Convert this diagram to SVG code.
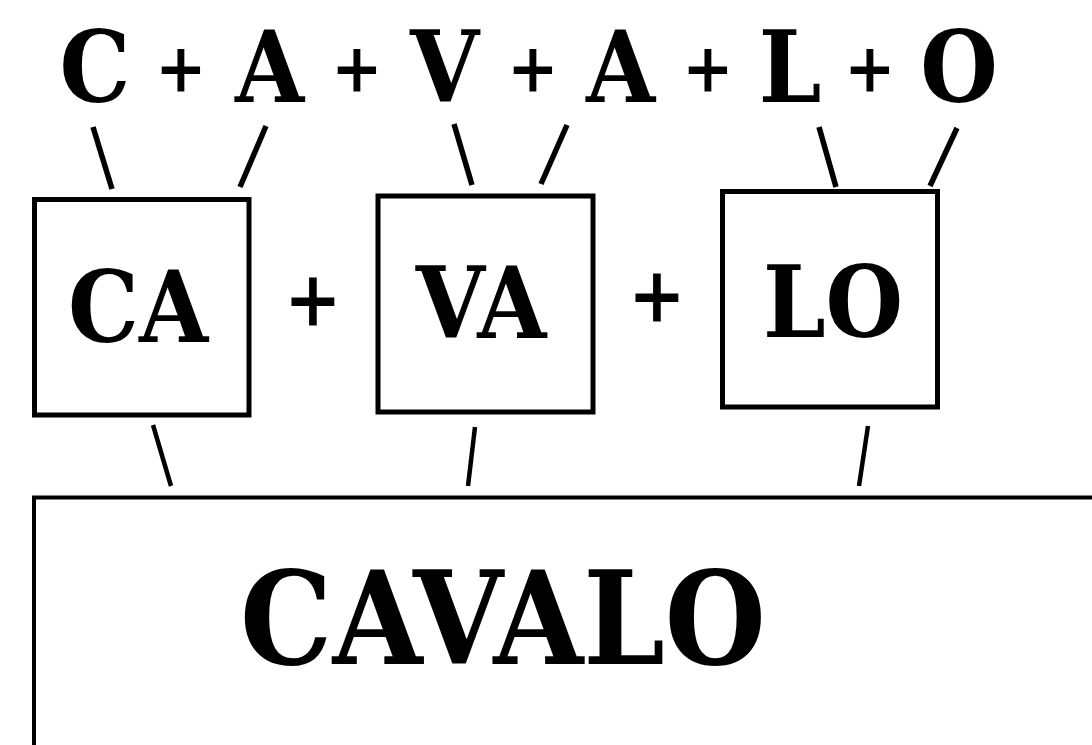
<svg xmlns="http://www.w3.org/2000/svg" width="1092" height="745" viewBox="0 0 1092 745">
<style>
.t{font-family:"DejaVu Serif Condensed","DejaVu Serif",serif;font-stretch:condensed;font-weight:bold;fill:#000;text-anchor:middle}
.big{font-size:99px}
.plus{font-size:68px}
.plus2{font-size:76px}
.huge{font-size:129px}
.box{fill:#fff;stroke:#000;stroke-width:5}
.c{stroke:#000;stroke-width:5.5;stroke-linecap:butt}
.c2{stroke:#000;stroke-width:4.5}
</style>
<rect width="1092" height="745" fill="#fff"/>
<g id="letters">
<text class="t big" x="95" y="102">C</text>
<text class="t plus" x="181" y="91">+</text>
<text class="t big" x="269.5" y="102">A</text>
<text class="t plus" x="357" y="91">+</text>
<text class="t big" x="444.5" y="102">V</text>
<text class="t plus" x="533" y="91">+</text>
<text class="t big" x="620.5" y="102">A</text>
<text class="t plus" x="708" y="91">+</text>
<text class="t big" x="790" y="102">L</text>
<text class="t plus" x="870" y="91">+</text>
<text class="t big" x="959" y="102">O</text>
</g>
<g id="connectors">
<line class="c" x1="93" y1="127" x2="112" y2="189"/>
<line class="c" x1="266" y1="126" x2="240" y2="187"/>
<line class="c" x1="454" y1="124" x2="472" y2="185"/>
<line class="c" x1="567" y1="125" x2="541" y2="184"/>
<line class="c" x1="819" y1="127" x2="836" y2="187"/>
<line class="c" x1="957" y1="128" x2="930" y2="186"/>
<line class="c2" x1="153" y1="425" x2="171" y2="486"/>
<line class="c2" x1="475" y1="427" x2="468" y2="486"/>
<line class="c2" x1="868" y1="426" x2="859" y2="486"/>
</g>
<g id="node-ca">
<rect class="box" x="34.5" y="199.5" width="214.5" height="215.5"/>
<text class="t big" x="138" y="342">CA</text>
</g>
<text class="t plus2" x="313" y="326">+</text>
<g id="node-va">
<rect class="box" x="378" y="196" width="215" height="216"/>
<text class="t big" x="481" y="338">VA</text>
</g>
<text class="t plus2" x="657" y="322">+</text>
<g id="node-lo">
<rect class="box" x="722.5" y="191.5" width="215" height="215.5"/>
<text class="t big" x="833" y="337">LO</text>
</g>
<g id="node-cavalo">
<rect x="34" y="497.5" width="1100" height="300" fill="none" stroke="#000" stroke-width="4"/>
<text class="t huge" x="503" y="664">CAVALO</text>
</g>
</svg>
